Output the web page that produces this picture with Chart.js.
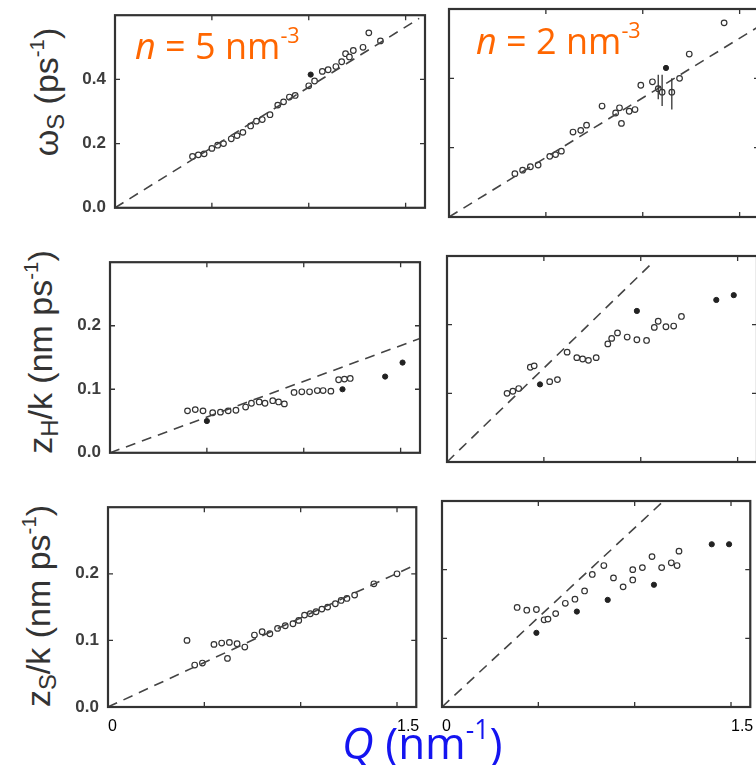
<!DOCTYPE html>
<html>
<head>
<meta charset="utf-8">
<script src="https://cdn.jsdelivr.net/npm/chart.js@4.4.1/dist/chart.umd.min.js"></script>
<style>
  html, body { margin: 0; padding: 0; background: #fff; }
  #stage { position: relative; width: 756px; height: 765px; overflow: hidden; background: #fff; }
  #stage canvas { position: absolute; }
  .ytitle {
    position: absolute; white-space: nowrap; line-height: 1;
    font-family: 'Liberation Sans', Arial, sans-serif; font-size: 34px; color: #333;
    transform: translate(-50%, -50%) rotate(-90deg);
  }
  .ytitle sub { font-size: 0.7em; vertical-align: 0; position: relative; top: 0.25em; }
  .ytitle sup { font-size: 0.6em; vertical-align: 0; position: relative; top: -0.7em; }
  .nlab {
    position: absolute; white-space: nowrap; line-height: 1;
    font-family: 'Open Sans', 'Noto Sans', sans-serif; font-size: 36px; color: #ff6600;
  }
  .nlab sup, .qlab sup { font-size: 0.6em; vertical-align: 0; position: relative; top: -0.75em; }
  .qlab {
    position: absolute; white-space: nowrap; line-height: 1;
    font-family: 'Open Sans', 'Noto Sans', sans-serif; font-size: 44px; color: #1414f0;
  }
</style>
</head>
<body>
<div id="stage">
  <div class="ytitle" style="left:46px; top:92px;">ω<sub>S</sub> (ps<sup>-1</sup>)</div>
  <div class="ytitle" style="left:40px; top:352px;">z<sub>H</sub>/k (nm ps<sup>-1</sup>)</div>
  <div class="ytitle" style="left:38px; top:606px;">z<sub>S</sub>/k (nm ps<sup>-1</sup>)</div>
</div>
<script>
// axis ticks
const qTickMarks = [0.5, 1.0, 1.5];
const qTickLabels = [0, 1.5];
const omegaTicks = [0, 0.2, 0.4];
const zTicks = [0, 0.1, 0.2];

// n = 5 nm^-3 : omega_S
const qOmega5 = [0.40, 0.43, 0.46, 0.50, 0.53, 0.56, 0.60, 0.63, 0.66, 0.70, 0.73, 0.76, 0.80, 0.84, 0.87,
  0.90, 0.93, 1.00, 1.03, 1.07, 1.10, 1.14, 1.17, 1.19, 1.21, 1.23, 1.28, 1.31, 1.37];
const omega5 = [0.160, 0.165, 0.168, 0.185, 0.195, 0.200, 0.215, 0.225, 0.235, 0.255, 0.270, 0.275, 0.290, 0.320, 0.330,
  0.345, 0.350, 0.380, 0.395, 0.425, 0.430, 0.440, 0.455, 0.480, 0.470, 0.490, 0.500, 0.545, 0.520];
const qOmega5Dot = [1.01];
const omega5Dot = [0.415];
const fitQOmega5 = [0, 1.57];
const fitOmega5 = [0, 0.59];

// n = 2 nm^-3 : omega_S
const qOmega2 = [0.34, 0.38, 0.42, 0.46, 0.52, 0.55, 0.58, 0.64, 0.68, 0.71, 0.79, 0.86, 0.88, 0.89, 0.93,
  0.96, 0.99, 1.05, 1.08, 1.10, 1.15, 1.19, 1.24, 1.42];
const omega2 = [0.125, 0.135, 0.145, 0.150, 0.175, 0.180, 0.190, 0.245, 0.250, 0.265, 0.320, 0.300, 0.315, 0.270, 0.305,
  0.310, 0.380, 0.390, 0.370, 0.360, 0.360, 0.400, 0.470, 0.560];
const qOmega2Dot = [1.12];
const omega2Dot = [0.430];
const errQOmega2 = [1.08, 1.10, 1.15];
const errLoOmega2 = [0.34, 0.32, 0.31];
const errHiOmega2 = [0.41, 0.41, 0.40];
const fitQOmega2 = [0, 1.6];
const fitOmega2 = [0, 0.55];

// n = 5 nm^-3 : z_H/k
const qZH5 = [0.40, 0.44, 0.48, 0.53, 0.57, 0.61, 0.65, 0.70, 0.73, 0.77, 0.80, 0.84, 0.87, 0.90, 0.95,
  0.99, 1.03, 1.07, 1.10, 1.14, 1.18, 1.21, 1.24];
const zH5 = [0.066, 0.068, 0.066, 0.063, 0.064, 0.066, 0.067, 0.072, 0.078, 0.080, 0.078, 0.082, 0.080, 0.077, 0.095,
  0.096, 0.096, 0.098, 0.098, 0.097, 0.115, 0.116, 0.117];
const qZH5Dot = [0.50, 1.20, 1.42, 1.51];
const zH5Dot = [0.050, 0.100, 0.120, 0.142];
const fitQZH5 = [0, 1.6];
const fitZH5 = [0, 0.18];

// n = 2 nm^-3 : z_H/k
const qZH2 = [0.31, 0.34, 0.37, 0.43, 0.45, 0.53, 0.57, 0.62, 0.67, 0.70, 0.73, 0.77, 0.83, 0.85, 0.88,
  0.93, 0.98, 1.03, 1.07, 1.09, 1.13, 1.17, 1.21];
const zH2 = [0.100, 0.103, 0.107, 0.138, 0.140, 0.117, 0.120, 0.160, 0.152, 0.150, 0.148, 0.152, 0.172, 0.180, 0.188,
  0.182, 0.178, 0.177, 0.196, 0.205, 0.197, 0.198, 0.212];
const qZH2Dot = [0.48, 0.98, 1.39, 1.48];
const zH2Dot = [0.113, 0.220, 0.236, 0.243];
const fitQZH2 = [0, 1.06];
const fitZH2 = [0, 0.29];

// n = 5 nm^-3 : z_S/k
const qZS5 = [0.41, 0.45, 0.49, 0.55, 0.59, 0.62, 0.63, 0.67, 0.71, 0.76, 0.80, 0.84, 0.88, 0.92, 0.96,
  0.99, 1.02, 1.05, 1.08, 1.11, 1.14, 1.18, 1.21, 1.24, 1.28, 1.38, 1.50];
const zS5 = [0.100, 0.063, 0.066, 0.094, 0.096, 0.073, 0.097, 0.095, 0.090, 0.108, 0.113, 0.110, 0.118, 0.122, 0.125,
  0.130, 0.138, 0.140, 0.143, 0.147, 0.150, 0.155, 0.160, 0.163, 0.168, 0.185, 0.200];
const fitQZS5 = [0, 1.57];
const fitZS5 = [0, 0.21];

// n = 2 nm^-3 : z_S/k
const qZS2 = [0.39, 0.44, 0.49, 0.53, 0.55, 0.59, 0.64, 0.69, 0.74, 0.78, 0.84, 0.89, 0.94, 0.99, 0.99,
  1.04, 1.09, 1.14, 1.19, 1.22, 1.23];
const zS2 = [0.145, 0.141, 0.142, 0.127, 0.128, 0.136, 0.151, 0.157, 0.169, 0.193, 0.206, 0.188, 0.175, 0.200, 0.185,
  0.203, 0.219, 0.203, 0.210, 0.206, 0.227];
const qZS2Dot = [0.49, 0.70, 0.86, 1.10, 1.40, 1.49];
const zS2Dot = [0.108, 0.139, 0.156, 0.178, 0.237, 0.237];
const fitQZS2 = [0, 1.15];
const fitZS2 = [0, 0.30];

const PAD = 12;
const Y_AXIS_W = 50;
const X_AXIS_H = 30;
const INK = '#333';

function pts(xs, ys) {
  return xs.map((x, i) => ({ x, y: ys[i] }));
}

// frame, inward tick marks, error bars
const framePlugin = {
  id: 'frame',
  afterDatasetsDraw(chart, args, opts) {
    const { ctx, chartArea: a, scales: { x, y } } = chart;
    ctx.save();
    ctx.strokeStyle = INK;
    ctx.lineWidth = 1.3;
    ctx.beginPath();
    (opts.errQ || []).forEach((q, i) => {
      const px = x.getPixelForValue(q);
      ctx.moveTo(px, y.getPixelForValue(opts.errLo[i]));
      ctx.lineTo(px, y.getPixelForValue(opts.errHi[i]));
    });
    qTickMarks.forEach((v) => {
      const px = x.getPixelForValue(v);
      ctx.moveTo(px, a.bottom); ctx.lineTo(px, a.bottom - 5);
      ctx.moveTo(px, a.top); ctx.lineTo(px, a.top + 5);
    });
    opts.yMarks.forEach((v) => {
      if (v === 0) return;
      const py = y.getPixelForValue(v);
      ctx.moveTo(a.left, py); ctx.lineTo(a.left + 5, py);
      ctx.moveTo(a.right, py); ctx.lineTo(a.right - 5, py);
    });
    ctx.stroke();
    ctx.lineWidth = 2.2;
    ctx.strokeRect(a.left, a.top, a.right - a.left, a.bottom - a.top);
    ctx.restore();
  }
};

const panels = [
  { box: [115, 8, 310, 207], yMax: 0.6, yTicks: omegaTicks, yLabels: true, xLabels: false,
    open: [qOmega5, omega5], dots: [qOmega5Dot, omega5Dot], fit: [fitQOmega5, fitOmega5] },
  { box: [449, 9, 310, 208], yMax: 0.6, yTicks: omegaTicks, yLabels: false, xLabels: false,
    open: [qOmega2, omega2], dots: [qOmega2Dot, omega2Dot], fit: [fitQOmega2, fitOmega2],
    err: { errQ: errQOmega2, errLo: errLoOmega2, errHi: errHiOmega2 } },
  { box: [110, 255, 310, 205], yMax: 0.3, yTicks: zTicks, yLabels: true, xLabels: false,
    open: [qZH5, zH5], dots: [qZH5Dot, zH5Dot], fit: [fitQZH5, fitZH5] },
  { box: [447, 256, 310, 206], yMax: 0.3, yTicks: zTicks, yLabels: false, xLabels: false,
    open: [qZH2, zH2], dots: [qZH2Dot, zH2Dot], fit: [fitQZH2, fitZH2] },
  { box: [108, 500, 310, 207], yMax: 0.3, yTicks: zTicks, yLabels: true, xLabels: true,
    open: [qZS5, zS5], dots: [[], []], fit: [fitQZS5, fitZS5] },
  { box: [442, 501, 310, 206], yMax: 0.3, yTicks: zTicks, yLabels: false, xLabels: true,
    open: [qZS2, zS2], dots: [qZS2Dot, zS2Dot], fit: [fitQZS2, fitZS2] }
];

const stage = document.getElementById('stage');

panels.forEach((p) => {
  const yW = p.yLabels ? Y_AXIS_W : 0;
  const xH = p.xLabels ? X_AXIS_H : 0;
  const canvas = document.createElement('canvas');
  canvas.width = p.box[2] + 2 * PAD + yW;
  canvas.height = p.box[3] + 2 * PAD + xH;
  canvas.style.left = (p.box[0] - PAD - yW) + 'px';
  canvas.style.top = (p.box[1] - PAD) + 'px';
  stage.appendChild(canvas);

  new Chart(canvas, {
    type: 'scatter',
    data: {
      datasets: [
        {
          data: pts(p.fit[0], p.fit[1]),
          showLine: true,
          borderColor: '#444',
          borderWidth: 1.6,
          borderDash: [10, 7],
          pointRadius: 0
        },
        {
          data: pts(p.open[0], p.open[1]),
          pointRadius: 2.8,
          pointBorderWidth: 1.2,
          pointBorderColor: INK,
          pointBackgroundColor: '#fff'
        },
        {
          data: pts(p.dots[0], p.dots[1]),
          pointRadius: 2.6,
          pointBorderWidth: 1,
          pointBorderColor: '#222',
          pointBackgroundColor: '#222'
        }
      ]
    },
    options: {
      responsive: false,
      animation: false,
      events: [],
      layout: { padding: PAD },
      plugins: {
        legend: { display: false },
        tooltip: { enabled: false },
        frame: Object.assign({ yMarks: p.yTicks }, p.err || {})
      },
      scales: {
        x: {
          type: 'linear',
          min: 0,
          max: 1.6,
          display: p.xLabels,
          grid: { display: false, drawTicks: false },
          border: { display: false },
          afterBuildTicks: (s) => { s.ticks = qTickLabels.map((v) => ({ value: v })); },
          afterFit: (s) => { s.height = xH; },
          ticks: {
            align: 'start',
            padding: 10,
            color: '#000',
            font: { family: "'Liberation Sans', Arial, sans-serif", size: 16 },
            callback: (v) => String(v)
          }
        },
        y: {
          type: 'linear',
          min: 0,
          max: p.yMax,
          display: p.yLabels,
          grid: { display: false, drawTicks: false },
          border: { display: false },
          afterBuildTicks: (s) => { s.ticks = p.yTicks.map((v) => ({ value: v })); },
          afterFit: (s) => { s.width = yW; },
          ticks: {
            padding: 9,
            color: '#3d3d3d',
            font: { family: "'Liberation Sans', Arial, sans-serif", size: 17, weight: 'bold' },
            callback: (v) => Number(v).toFixed(1)
          }
        }
      }
    },
    plugins: [framePlugin]
  });
});

// overlay labels
function addLabel(cls, html, left, top) {
  const d = document.createElement('div');
  d.className = cls;
  d.innerHTML = html;
  d.style.left = left + 'px';
  d.style.top = top + 'px';
  stage.appendChild(d);
}
addLabel('nlab', '<i>n</i> = 5 nm<sup>-3</sup>', 135, 28);
addLabel('nlab', '<i>n</i> = 2 nm<sup>-3</sup>', 476, 23);
addLabel('qlab', '<i>Q</i> (nm<sup>-1</sup>)', 342, 720);
</script>
</body>
</html>
